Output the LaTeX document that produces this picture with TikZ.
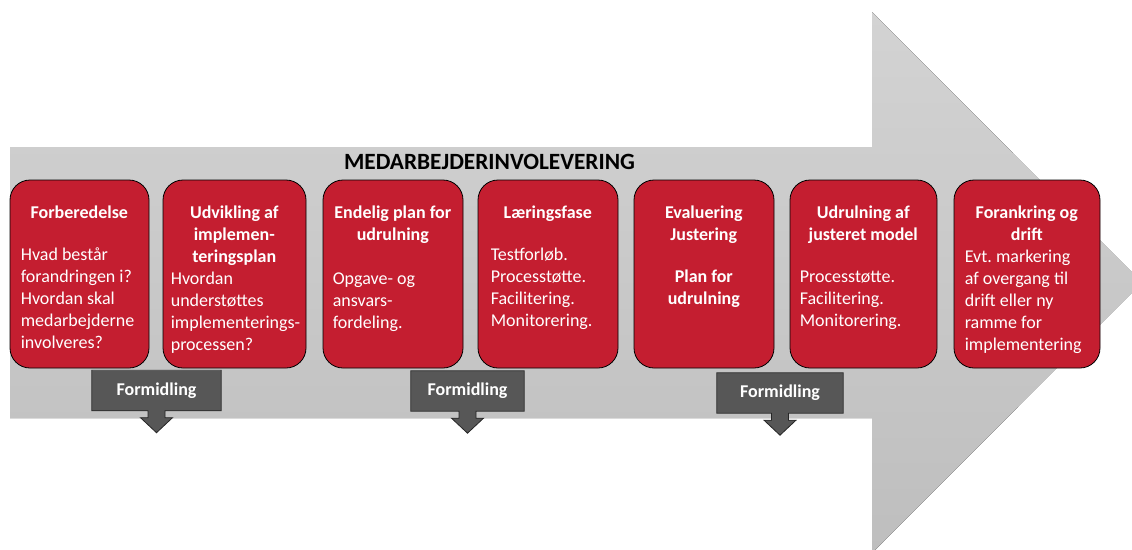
\documentclass[tikz,border=0pt]{standalone}
\usepackage{fontspec}
\setmainfont{Carlito}
\frenchspacing
\definecolor{phasered}{RGB}{196,30,48}
\definecolor{formgray}{RGB}{87,87,87}
\definecolor{arrowtop}{RGB}{211,211,211}
\definecolor{arrowbot}{RGB}{190,190,190}
\begin{document}
\begin{tikzpicture}[x=1pt,y=-1pt,
  phase/.style={draw=black,line width=0.8pt,fill=phasered,rounded corners=20pt,
    minimum height=188pt,inner sep=0pt},
  phasetext/.style={anchor=north west,inner sep=0pt,align=left,text=white,
    font=\fontsize{18pt}{22pt}\selectfont,
    execute at begin node={\spaceskip=0pt\xspaceskip=0pt}},
  formid/.style={fill=formgray,minimum height=40pt,inner sep=0pt,text=white,
    font=\fontsize{18pt}{22pt}\selectfont\bfseries}]
\useasboundingbox (0,0) rectangle (1132,549);

% the big arrow
\fill [top color=arrowtop,bottom color=arrowbot] (10,147) -- (872,147) -- (872,12) --
(1142,282.5) -- (872,553) -- (872,418) -- (10,418) -- cycle;

\node (title) at (489.5,169) [anchor=base,font=\fontsize{23.3pt}{27pt}\selectfont\bfseries]
  {MEDARBEJDERINVOLEVERING};

\foreach \n / \l / \r in {1/10/149,2/163/306,3/323/463,4/478/618,5/634/774,6/790/937,7/954/1100}
{
\node (b\n) at ({(\l+\r)/2},274) [phase,minimum width={\r-\l}] {};
}

\node (t1) at ([xshift=3pt,yshift=-23pt]b1.north west) [phasetext,text width=133pt]
  {\strut{\centering\bfseries Forberedelse\par}\vspace{20pt}\leftskip=8pt
   Hvad består\\forandringen i?\\Hvordan skal\\medarbejderne\\involveres?\par};
\node (t2) at ([xshift=3pt,yshift=-23pt]b2.north west) [phasetext,text width=137pt]
  {\strut{\centering\bfseries Udvikling af\\implemen-\\teringsplan\par}\leftskip=5pt
   Hvordan\\understøttes\\implementerings-\\processen?\par};
\node (t3) at ([xshift=3pt,yshift=-23pt]b3.north west) [phasetext,text width=134pt]
  {\strut{\centering\bfseries Endelig plan for\\udrulning\par}\vspace{22pt}\leftskip=7pt
   Opgave- og\\ansvars-\\fordeling.\par};
\node (t4) at ([xshift=3pt,yshift=-23pt]b4.north west) [phasetext,text width=134pt]
  {\strut{\centering\bfseries Læringsfase\par}\vspace{20pt}\leftskip=10pt
   Testforløb.\\Processtøtte.\\Facilitering.\\Monitorering.\par};
\node (t5) at ([xshift=3pt,yshift=-23pt]b5.north west) [phasetext,text width=134pt]
  {\strut{\centering\bfseries Evaluering\\Justering\\[20pt]Plan for\\udrulning\par}};
\node (t6) at ([xshift=3pt,yshift=-23pt]b6.north west) [phasetext,text width=141pt]
  {\strut{\centering\bfseries Udrulning af\\justeret model\par}\vspace{20pt}\leftskip=7pt
   Processtøtte.\\Facilitering.\\Monitorering.\par};
\node (t7) at ([xshift=3pt,yshift=-23pt]b7.north west) [phasetext,text width=140pt]
  {\strut{\centering\bfseries Forankring og\\drift\par}\leftskip=8pt
   Evt. markering\\af overgang til\\drift eller ny\\ramme for\\implementering\par};

\node (f1) at (156.5,390.5) [formid,minimum width=129pt] {Formidling};
\node (f2) at (467.5,391) [formid,minimum width=113pt] {Formidling};
\node (f3) at (780,393) [formid,minimum width=126pt] {Formidling};

\foreach \f in {f1,f2,f3}
{
\fill [formgray] ([xshift=-8.5pt]\f.south) -- ([xshift=-8.5pt,yshift=-7pt]\f.south) --
([xshift=-16pt,yshift=-7pt]\f.south) -- ([yshift=-22pt]\f.south) --
([xshift=16pt,yshift=-7pt]\f.south) -- ([xshift=8.5pt,yshift=-7pt]\f.south) --
([xshift=8.5pt]\f.south) -- cycle;
\draw [black!85,line width=0.8pt] (\f.north west) -- (\f.north east) -- (\f.south east) --
([xshift=8.5pt]\f.south) -- ([xshift=8.5pt,yshift=-7pt]\f.south) --
([xshift=16pt,yshift=-7pt]\f.south) -- ([yshift=-22pt]\f.south) --
([xshift=-16pt,yshift=-7pt]\f.south) -- ([xshift=-8.5pt,yshift=-7pt]\f.south) --
([xshift=-8.5pt]\f.south) -- (\f.south west) -- cycle;
}
\end{tikzpicture}
\end{document}
